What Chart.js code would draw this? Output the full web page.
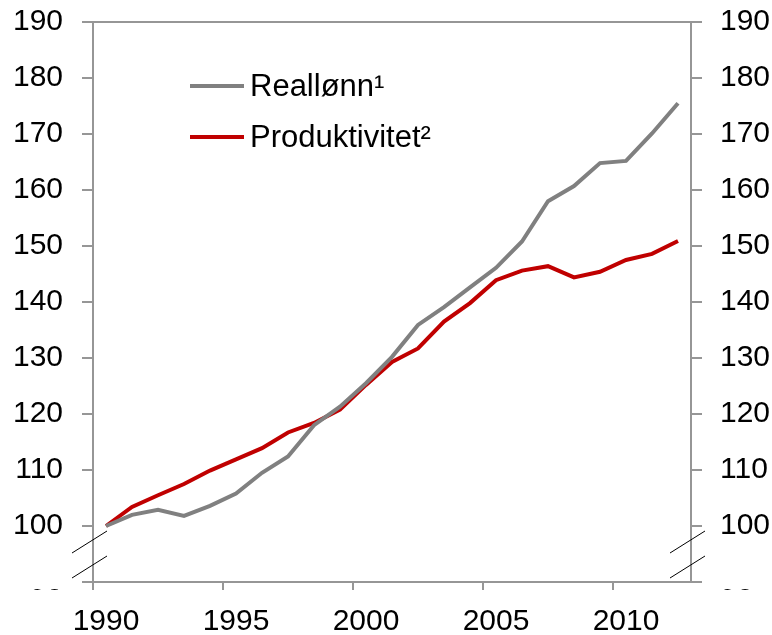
<!DOCTYPE html>
<html>
<head>
<meta charset="utf-8">
<script src="https://cdn.jsdelivr.net/npm/chart.js@4/dist/chart.umd.min.js"></script>
<style>
  body { margin: 0; background: #fff; }
  #wrap { width: 772px; height: 635px; position: relative; }
</style>
</head>
<body>
<div id="wrap"><canvas id="chart"></canvas></div>
<script>
// --- DONNEES ---
const years = ['1990', '1991', '1992', '1993', '1994', '1995', '1996', '1997', '1998', '1999', '2000',
  '2001', '2002', '2003', '2004', '2005', '2006', '2007', '2008', '2009', '2010', '2011', '2012'];
const reallonn = [100, 102.0, 102.9, 101.8, 103.6, 105.8, 109.5, 112.4, 118.0, 121.3, 125.5,
  130.2, 135.9, 139.1, 142.6, 146.1, 150.8, 158.0, 160.7, 164.8, 165.2, 170.1, 175.5];
const produktivitet = [100, 103.4, 105.5, 107.5, 109.9, 111.9, 113.9, 116.7, 118.4, 120.8, 125.2,
  129.3, 131.7, 136.5, 139.8, 143.9, 145.6, 146.4, 144.4, 145.4, 147.5, 148.6, 150.9];
const seriesNames = ['Reallønn¹', 'Produktivitet²'];
const yMin = 90, yMax = 190, yStep = 10;

const AXIS = '#969696';
const FONT = '"Liberation Sans", Arial, sans-serif';

// legende + bordure haut + coupures d'axe
const extras = {
    id: 'extras',
    afterDraw(chart) {
        const { ctx, chartArea: a } = chart;
        ctx.save();

        // bordure du haut
        ctx.strokeStyle = AXIS;
        ctx.lineWidth = 2;
        ctx.beginPath();
        ctx.moveTo(a.left, a.top);
        ctx.lineTo(a.right, a.top);
        ctx.stroke();

        // cache le libellé 90 (seul le bas reste visible)
        ctx.fillStyle = '#fff';
        ctx.fillRect(0, a.bottom - 22, a.left - 12, 29);
        ctx.fillRect(a.right + 12, a.bottom - 22, 100, 29);

        // marques de coupure
        ctx.strokeStyle = '#000';
        ctx.lineWidth = 1;
        [a.left, a.right].forEach(x => {
            ctx.beginPath();
            ctx.moveTo(x - 21, a.bottom - 29); ctx.lineTo(x + 14, a.bottom - 51);
            ctx.moveTo(x - 21, a.bottom - 4); ctx.lineTo(x + 14, a.bottom - 26);
            ctx.stroke();
        });

        // légende
        ctx.font = '31px ' + FONT;
        ctx.textBaseline = 'middle';
        chart.data.datasets.forEach((ds, i) => {
            const y = 86 + i * 51;
            ctx.strokeStyle = ds.borderColor;
            ctx.lineWidth = 4;
            ctx.beginPath();
            ctx.moveTo(190, y); ctx.lineTo(244, y);
            ctx.stroke();
            ctx.fillStyle = '#000';
            ctx.fillText(ds.label, 250, y + 1);
        });
        ctx.restore();
    }
};

const yAxis = (pos, w) => ({
    type: 'linear',
    position: pos,
    min: yMin,
    max: yMax,
    afterFit: s => { s.width = w; s.paddingTop = 0; s.paddingBottom = 0; },
    border: { color: AXIS, width: 2 },
    grid: { drawOnChartArea: false, tickLength: 11, color: AXIS, lineWidth: 2 },
    ticks: { stepSize: yStep, padding: pos === 'left' ? 19 : 18, color: '#000', font: { size: 30, family: FONT } }
});

new Chart(document.getElementById('chart'), {
    type: 'line',
    data: {
        labels: years,
        datasets: [
            { label: seriesNames[0], data: reallonn, borderColor: '#808080', borderWidth: 4, pointRadius: 0, tension: 0 },
            { label: seriesNames[1], data: produktivitet, borderColor: '#c00000', borderWidth: 4, pointRadius: 0, tension: 0 }
        ]
    },
    options: {
        responsive: true,
        maintainAspectRatio: false,
        animation: false,
        layout: { padding: { top: 22 } },
        plugins: { legend: { display: false }, tooltip: { enabled: false } },
        scales: {
            x: {
                type: 'category',
                offset: true,
                afterFit: s => { s.height = 53; s.paddingLeft = 0; s.paddingRight = 0; },
                border: { color: AXIS, width: 2 },
                grid: {
                    offset: true,
                    drawOnChartArea: false,
                    tickLength: 8,
                    lineWidth: 2,
                    color: c => (c.index % 5 === 0 ? AXIS : 'rgba(0,0,0,0)')
                },
                ticks: {
                    autoSkip: false,
                    maxRotation: 0,
                    padding: 14,
                    color: '#000',
                    font: { size: 30, family: FONT },
                    callback: (v, i) => (i % 5 === 0 ? years[i] : '')
                }
            },
            y: yAxis('left', 93),
            y2: yAxis('right', 81)
        }
    },
    plugins: [extras]
});
</script>
</body>
</html>
